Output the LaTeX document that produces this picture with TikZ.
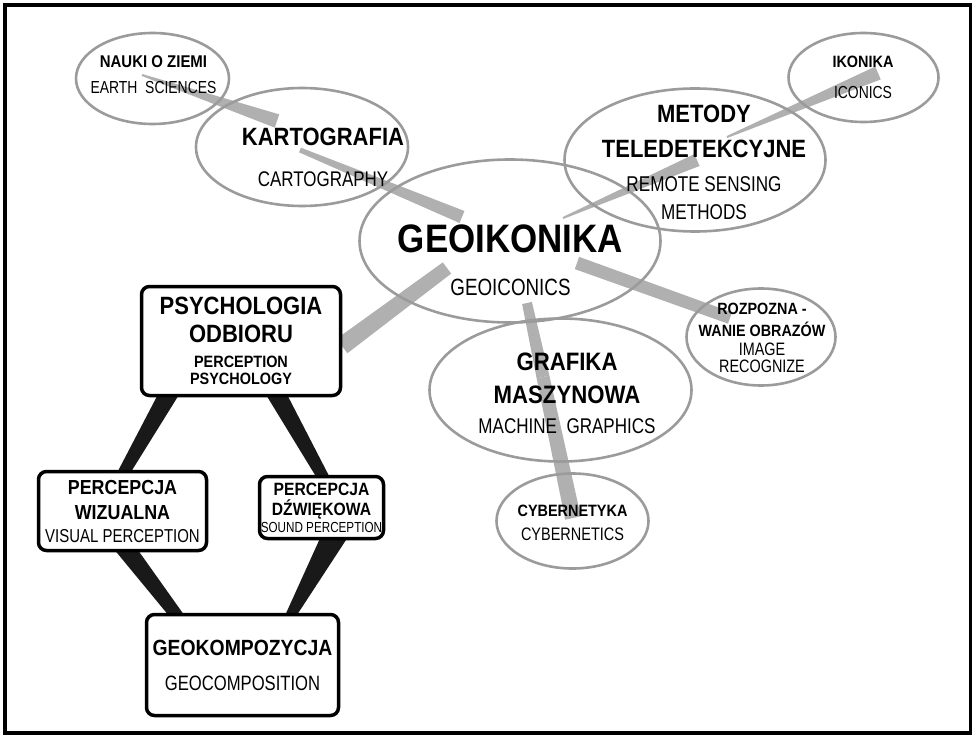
\documentclass[tikz,border=0pt]{standalone}
\usepackage{fontspec}
\setmainfont{Liberation Sans}
\newfontfamily\hdfont{Liberation Sans}[FakeStretch=0.88]
\newfontfamily\subfont{Liberation Sans}[FakeStretch=0.80]
\usetikzlibrary{shapes.geometric, calc, backgrounds}
\definecolor{ringgray}{RGB}{155,155,155}
\definecolor{bargray}{RGB}{176,176,176}
\definecolor{barblack}{RGB}{25,25,25}
\lineskiplimit=-1000pt

\newcommand\tbold[1]{\hdfont\bfseries\fontsize{#1}{0}\selectfont}
\newcommand\tthin[1]{\subfont\fontsize{#1}{0}\selectfont}

% tapered bar: node+offset -> node+offset, start width, end width, style
\newcommand\taperbar[7]{%
  \coordinate (tb-s) at ($(#1)+(#2)$);
  \coordinate (tb-e) at ($(#3)+(#4)$);
  \fill[#7] ($(tb-s)!0.5*#5pt!90:(tb-e)$) -- ($(tb-e)!0.5*#6pt!-90:(tb-s)$)
    -- ($(tb-e)!0.5*#6pt!90:(tb-s)$) -- ($(tb-s)!0.5*#5pt!-90:(tb-e)$) -- cycle;}

\begin{document}
\begin{tikzpicture}[
  x=1pt, y=-1pt,
  ring/.style={ellipse, draw=ringgray, line width=2.6pt, inner sep=0pt},
  rbox/.style={draw=black, line width=3.5pt, rounded corners=8pt, fill=white,
               align=center, inner sep=0pt, font=\fontsize{10}{0}\selectfont},
  txt/.style={align=center, inner sep=0pt, font=\fontsize{10}{0}\selectfont},
  graybar/.style={fill=bargray},
  blackbar/.style={fill=barblack},
]
\useasboundingbox (0,0) rectangle (973,735);

%% Ellipses
\node[ring, minimum width=153, minimum height=91]  (nauki)   at (152.5,78.5) {};
\node[ring, minimum width=212, minimum height=118] (kart)    at (302,147) {};
\node[ring, minimum width=301, minimum height=163] (geo)     at (510,241) {};
\node[ring, minimum width=261, minimum height=143] (metody)  at (695,160) {};
\node[ring, minimum width=150, minimum height=89]  (ikon)    at (863.5,77.5) {};
\node[ring, minimum width=149, minimum height=97]  (rozp)    at (761,337) {};
\node[ring, minimum width=262, minimum height=143] (grafika) at (560.5,390) {};
\node[ring, minimum width=152, minimum height=95]  (cyber)   at (572.5,521) {};

%% Ellipse labels
\node[txt] (nauki-t) at (153.5,75)
  {\tbold{17}NAUKI O ZIEMI\\[26pt]\tthin{17.4}EARTH\ \ SCIENCES};
\node[txt] (kart-t) at (323,157)
  {\tbold{25}KARTOGRAFIA\\[41pt]\tthin{21.2}CARTOGRAPHY};
\node[txt] (geo-t) at (510.5,260)
  {\tbold{39.7}GEOIKONIKA\\[43pt]\tthin{23.5}GEOICONICS};
\node[txt] (metody-t) at (704,162.5)
  {\tbold{25}METODY\\[35pt]\tbold{25}TELEDETEKCYJNE\\[34pt]
   \tthin{21.4}REMOTE SENSING\\[28pt]\tthin{21.4}METHODS};
\node[txt] (ikon-t) at (863,77.5)
  {\tbold{16.4}IKONIKA\\[31pt]\tthin{17.4}ICONICS};
\node[txt] (rozp-t) at (762,338)
  {\tbold{16.3}ROZPOZNA -\\[22pt]\tbold{16.3}WANIE OBRAZÓW\\[19pt]
   \tthin{18}IMAGE\\[17pt]\tthin{18}RECOGNIZE};
\node[txt] (grafika-t) at (567,393)
  {\tbold{25.2}GRAFIKA\\[33pt]\tbold{25.2}MASZYNOWA\\[30pt]
   \tthin{21.3}MACHINE\ \ GRAPHICS};
\node[txt] (cyber-t) at (572.5,523)
  {\tbold{16.4}CYBERNETYKA\\[24pt]\tthin{18.1}CYBERNETICS};

%% Boxes
\node[rbox, minimum width=199, minimum height=109] (psych) at (241,341)
  {\tbold{25}PSYCHOLOGIA\\[28pt]\tbold{25}ODBIORU\\[25pt]
   \tbold{16.4}PERCEPTION\\[17pt]\tbold{16.4}PSYCHOLOGY};
\node[rbox, minimum width=168, minimum height=79] (wiz) at (122.5,511)
  {\tbold{20.3}PERCEPCJA\\[25pt]\tbold{20.3}WIZUALNA\\[23pt]
   \tthin{18.7}VISUAL PERCEPTION};
\node[rbox, minimum width=124, minimum height=62] (dzw) at (321.5,507.5)
  {\tbold{17.8}PERCEPCJA\\[20pt]\tbold{17.8}DŹWIĘKOWA\\[17pt]
   \tthin{14.6}SOUND PERCEPTION};
\node[rbox, minimum width=192, minimum height=101] (geok) at (242.5,665)
  {\tbold{22}GEOKOMPOZYCJA\\[35pt]\tthin{20.8}GEOCOMPOSITION};

%% Connecting bars
\begin{scope}[on background layer]
\taperbar{nauki}{-10.5,-3.5}{kart}{-25,-26}{2}{14}{graybar}
\taperbar{kart}{-2,3}{geo}{-48,-24}{5}{13}{graybar}
\taperbar{geo}{53,-23}{metody}{2,0}{2}{13}{graybar}
\taperbar{metody}{32,-23}{ikon}{14.5,-4.5}{2}{14}{graybar}
\taperbar{geo}{-63,27}{psych}{101,5}{14}{18}{graybar}
\taperbar{geo}{67,22}{rozp}{-31,-19}{13}{12}{graybar}
\taperbar{geo}{17,62}{grafika}{-17.5,-13}{10}{13}{graybar}
\taperbar{grafika}{-17.5,-13}{cyber}{0.5,-3}{13}{16}{graybar}
\taperbar{psych}{-69,47}{wiz}{-3,-31}{19}{11}{blackbar}
\taperbar{psych}{32,47}{dzw}{5.5,-23.5}{19}{11}{blackbar}
\taperbar{wiz}{-0.5,33}{geok}{-61.5,-44}{19}{12}{blackbar}
\taperbar{dzw}{15.5,23.5}{geok}{44.5,-43}{25}{9}{blackbar}
\end{scope}

%% Frame
\draw[line width=3.5pt] (5,5) rectangle (970.5,733);
\end{tikzpicture}
\end{document}
